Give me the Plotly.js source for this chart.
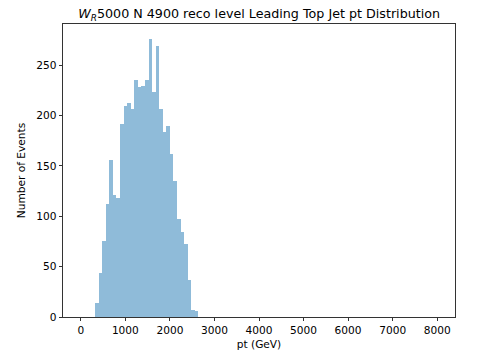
<!DOCTYPE html>
<html>
<head>
<meta charset="utf-8">
<script src="https://cdn.plot.ly/plotly-3.0.1.min.js"></script>
<style>html,body{margin:0;padding:0;background:#fff;}#chart{width:488px;height:361px;}</style>
</head>
<body>
<div id="chart"></div>
<script>
// Histogram: bin width 80 GeV, first non-empty bin starts at 320 GeV
const binWidth = 80;
const binStarts = [320, 400, 480, 560, 640, 720, 800, 880, 960, 1040, 1120, 1200, 1280, 1360, 1440, 1520, 1600, 1680, 1760, 1840, 1920, 2000, 2080, 2160, 2240, 2320, 2400, 2480, 2560];
const counts = [14, 44, 75, 112, 156, 121, 118, 192, 209, 212, 206, 235, 228, 229, 235, 276, 223, 269, 206, 184, 190, 162, 135, 97, 84, 72, 37, 7, 6];
const xTicks = [0, 1000, 2000, 3000, 4000, 5000, 6000, 7000, 8000];
const yTicks = [0, 50, 100, 150, 200, 250];

const centers = binStarts.map(s => s + binWidth / 2);

const trace = {
  type: 'bar',
  x: centers,
  y: counts,
  width: binWidth,
  marker: {color: 'rgba(31,119,180,0.5)', line: {width: 0}},
  hoverinfo: 'x+y'
};

const font = {family: 'DejaVu Sans, sans-serif', size: 10.6, color: '#000'};

const layout = {
  width: 488,
  height: 361,
  margin: {l: 62.5, r: 32.5, t: 24, b: 43.5, pad: 0},
  paper_bgcolor: '#fff',
  plot_bgcolor: '#fff',
  showlegend: false,
  bargap: 0,
  font: font,
  title: {
    text: '<i>W</i><sub><i>R</i></sub>5000 N 4900 reco level Leading Top Jet pt Distribution',
    font: {family: 'DejaVu Sans, sans-serif', size: 12.7, color: '#000'},
    x: 0.531, xanchor: 'center', y: 0.975, yanchor: 'top'
  },
  xaxis: {
    range: [-400, 8400],
    tickvals: xTicks,
    ticktext: xTicks.map(String),
    ticks: 'outside', ticklen: 3.5, tickwidth: 0.8, tickcolor: '#000',
    showline: true, linecolor: '#000', linewidth: 0.8, mirror: true,
    showgrid: false, zeroline: false,
    tickfont: font,
    title: {text: 'pt (GeV)', font: font, standoff: 5}
  },
  yaxis: {
    range: [0, 290.8],
    tickvals: yTicks,
    ticktext: yTicks.map(String),
    ticks: 'outside', ticklen: 3.5, tickwidth: 0.8, tickcolor: '#000',
    showline: true, linecolor: '#000', linewidth: 0.8, mirror: true,
    showgrid: false, zeroline: false,
    tickfont: font,
    title: {text: 'Number of Events', font: font, standoff: 8}
  }
};

Plotly.newPlot('chart', [trace], layout, {displayModeBar: false, staticPlot: true});
</script>
</body>
</html>
